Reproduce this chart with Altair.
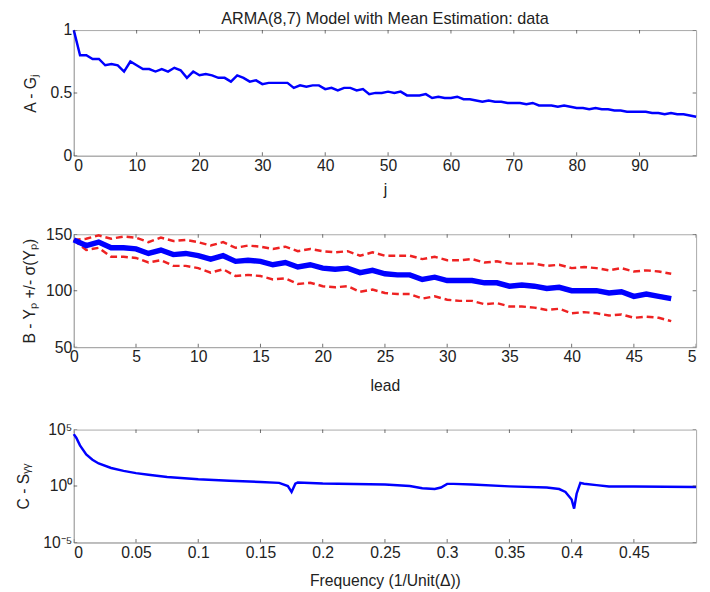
import altair as alt
import pandas as pd

FONT = "Liberation Sans"
BLUE = "#0000ff"
RED = "#ee2222"
GRAY = "#a8a8a8"
W = 634

# ---------------- Panel A data ----------------
j_vals = list(range(100))
G_vals = [1.00, 0.80, 0.80, 0.77, 0.77, 0.72, 0.73, 0.72, 0.67, 0.75,
          0.72, 0.69, 0.69, 0.67, 0.69, 0.67, 0.70, 0.68, 0.62, 0.67,
          0.64, 0.65, 0.64, 0.62, 0.62, 0.59, 0.64, 0.62, 0.59, 0.60,
          0.57, 0.58, 0.58, 0.58, 0.58, 0.54, 0.56, 0.55, 0.56, 0.56,
          0.53, 0.54, 0.52, 0.54, 0.54, 0.52, 0.53, 0.49, 0.50, 0.50,
          0.51, 0.50, 0.51, 0.48, 0.48, 0.48, 0.49, 0.46, 0.47, 0.46,
          0.46, 0.47, 0.45, 0.45, 0.44, 0.43, 0.44, 0.43, 0.43, 0.42,
          0.42, 0.42, 0.41, 0.42, 0.40, 0.40, 0.40, 0.39, 0.40, 0.39,
          0.38, 0.38, 0.37, 0.38, 0.37, 0.37, 0.36, 0.36, 0.35, 0.35,
          0.35, 0.35, 0.34, 0.34, 0.33, 0.34, 0.33, 0.33, 0.32, 0.31]
A_xticks = [0, 10, 20, 30, 40, 50, 60, 70, 80, 90]
A_yticks = [0, 0.5, 1]

# ---------------- Panel B data ----------------
lead_vals = list(range(49))
Yp_vals = [145, 140, 143, 138, 138, 137, 133, 136, 132, 133,
           131, 128, 131, 126, 127, 126, 123, 125, 121, 123,
           120, 119, 120, 116, 118, 115, 114, 114, 110, 112,
           109, 109, 109, 107, 107, 104, 105, 104, 102, 103,
           100, 100, 100, 98, 99, 95, 97, 95, 93]
Yup_vals = [145, 146, 149, 146, 148, 147, 143, 147, 144, 145,
            143, 140, 143, 138, 140, 139, 137, 139, 135, 137,
            135, 134, 135, 131, 134, 131, 131, 131, 128, 130,
            127, 127, 128, 125, 126, 124, 124, 124, 122, 123,
            120, 121, 120, 118, 120, 117, 118, 117, 115]
Ylo_vals = [145, 136, 138, 130, 130, 129, 125, 127, 122, 122,
            120, 116, 119, 113, 114, 113, 110, 111, 106, 107,
            104, 103, 104, 99, 101, 98, 97, 97, 93, 95,
            92, 91, 91, 88, 89, 86, 86, 85, 83, 84,
            80, 81, 80, 78, 79, 76, 77, 76, 73]
B_xticks = [0, 5, 10, 15, 20, 25, 30, 35, 40, 45, 50]
B_yticks = [50, 100, 150]

# ---------------- Panel C data ----------------
freq_vals = [0.0, 0.002, 0.005, 0.01, 0.015, 0.02, 0.03, 0.04, 0.05, 0.06,
             0.075, 0.1, 0.125, 0.15, 0.165, 0.172, 0.175, 0.178, 0.18, 0.2,
             0.25, 0.27, 0.28, 0.29, 0.295, 0.3, 0.305, 0.32, 0.35, 0.38,
             0.39, 0.395, 0.4, 0.402, 0.404, 0.407, 0.41, 0.42, 0.43, 0.45, 0.5]
S_vals = [40000, 19000, 4000, 630, 214, 100, 40, 22, 14, 10,
          6.3, 4.0, 3.0, 2.3, 1.9, 1.0, 0.3, 1.6, 2.1, 1.7,
          1.35, 1.0, 0.63, 0.54, 0.74, 1.55, 1.55, 1.35, 0.93, 0.74,
          0.54, 0.3, 0.063, 0.01, 0.21, 1.9, 1.6, 1.2, 0.9, 0.9, 0.83]
C_xticks = [0, 0.05, 0.1, 0.15, 0.2, 0.25, 0.3, 0.35, 0.4, 0.45]
C_yticks = [1e-5, 1, 1e5]


def edge_ticks(xticks, xdom, yticks, ydom, xscale, yscale):
    xt = pd.DataFrame({"x": [t for t in xticks for _ in ydom],
                       "y": [d for _ in xticks for d in ydom]})
    yt = pd.DataFrame({"x": [d for _ in yticks for d in xdom],
                       "y": [t for t in yticks for _ in xdom]})
    tx = alt.Chart(xt).mark_tick(orient="vertical", size=7, thickness=1,
                                 color="#333", clip=True).encode(
        x=alt.X("x:Q", scale=xscale), y=alt.Y("y:Q", scale=yscale))
    ty = alt.Chart(yt).mark_tick(orient="horizontal", size=7, thickness=1,
                                 color="#333", clip=True).encode(
        x=alt.X("x:Q", scale=xscale), y=alt.Y("y:Q", scale=yscale))
    return tx, ty


# ---------------- Panel A ----------------
dfA = pd.DataFrame({"j": j_vals, "G": G_vals})
xsA = alt.Scale(domain=[0, 99], nice=False, zero=False)
ysA = alt.Scale(domain=[0, 1], nice=False)
lineA = alt.Chart(dfA).mark_line(color=BLUE, strokeWidth=2.5).encode(
    x=alt.X("j:Q", scale=xsA, title="j",
            axis=alt.Axis(values=A_xticks, titlePadding=9)),
    y=alt.Y("G:Q", scale=ysA, title="A - Gⱼ",
            axis=alt.Axis(values=A_yticks, titlePadding=12,
                          labelExpr="datum.value == 0.5 ? '0.5' : format(datum.value, 'd')")),
)
txA, tyA = edge_ticks(A_xticks, [0, 99], A_yticks, [0, 1], xsA, ysA)
chartA = alt.layer(lineA, txA, tyA).properties(
    width=W, height=128,
    title=alt.TitleParams("ARMA(8,7) Model with Mean Estimation: data",
                          frame="group", fontSize=16.5, fontWeight="normal",
                          font=FONT, color="#222", offset=-5))

# ---------------- Panel B ----------------
dfB = pd.DataFrame({"lead": lead_vals, "Yp": Yp_vals, "up": Yup_vals, "lo": Ylo_vals})
xsB = alt.Scale(domain=[0, 50], nice=False, zero=False)
ysB = alt.Scale(domain=[50, 150], nice=False, zero=False)
xB = alt.X("lead:Q", scale=xsB, title="lead",
           axis=alt.Axis(values=B_xticks, titlePadding=13,
                         labelExpr="datum.value == 50 ? '5' : datum.label",
                         labelAlign={"condition": {"test": "datum.value == 50", "value": "right"},
                                     "value": "center"}))
upB = alt.Chart(dfB).mark_line(color=RED, strokeWidth=2.5, strokeDash=[7, 4]).encode(
    x=xB, y=alt.Y("up:Q", scale=ysB, title="B - Yₚ +/- σ(Yₚ)",
                  axis=alt.Axis(values=B_yticks, titlePadding=8)))
loB = alt.Chart(dfB).mark_line(color=RED, strokeWidth=2.5, strokeDash=[7, 4]).encode(
    x=xB, y=alt.Y("lo:Q", scale=ysB))
midB = alt.Chart(dfB).mark_line(color=BLUE, strokeWidth=5.5).encode(
    x=xB, y=alt.Y("Yp:Q", scale=ysB))
txB, tyB = edge_ticks(B_xticks, [0, 50], B_yticks, [50, 150], xsB, ysB)
chartB = alt.layer(upB, loB, midB, txB, tyB).properties(width=W, height=115)

# ---------------- Panel C ----------------
dfC = pd.DataFrame({"f": freq_vals, "S": S_vals})
xsC = alt.Scale(domain=[0, 0.5], nice=False, zero=False)
ysC = alt.Scale(type="log", domain=[1e-5, 1e5], nice=False)
lineC = alt.Chart(dfC).mark_line(color=BLUE, strokeWidth=2.5).encode(
    x=alt.X("f:Q", scale=xsC, title="Frequency (1/Unit(Δ))",
            axis=alt.Axis(values=C_xticks, titlePadding=13,
                          labelExpr="datum.value == 0 ? '0' : format(datum.value, '.2~f')")),
    y=alt.Y("S:Q", scale=ysC, title="C - Sᵧᵧ",
            axis=alt.Axis(values=C_yticks, titlePadding=12,
                          labelExpr="datum.value < 0.001 ? '10⁻⁵' : (datum.value > 1000 ? '10⁵' : '10⁰')")),
)
txC, tyC = edge_ticks(C_xticks, [0, 0.5], C_yticks, [1e-5, 1e5], xsC, ysC)
chartC = alt.layer(lineC, txC, tyC).properties(width=W, height=115)

chart = alt.vconcat(chartA, chartB, chartC, spacing=27).properties(
    padding={"left": 7, "right": 0, "top": -3, "bottom": 0}
).configure_view(
    stroke=GRAY, strokeWidth=1
).configure_axis(
    labelFont=FONT, titleFont=FONT, labelFontSize=16, titleFontSize=16,
    labelColor="#222", titleColor="#222", titleFontWeight="normal",
    domainColor=GRAY, ticks=False, grid=False, labelPadding=2,
)

chart.save("out.html", embed_options={"renderer": "svg", "actions": False})
